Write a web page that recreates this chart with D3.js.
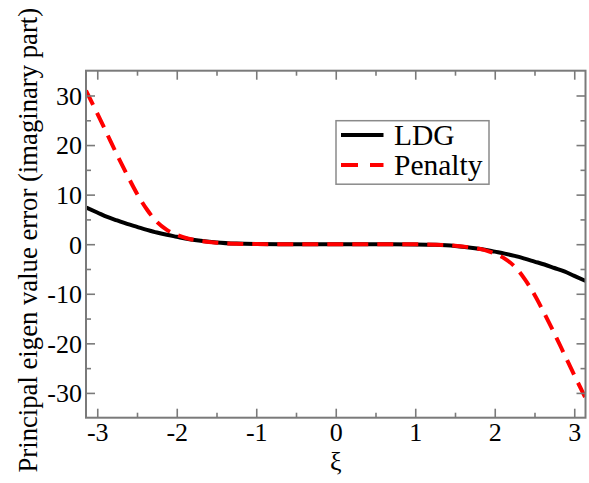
<!DOCTYPE html>
<html>
<head>
<meta charset="utf-8">
<script src="https://cdn.jsdelivr.net/npm/d3@7"></script>
<style>
  #chart, #chart text { font-family: Liberation Serif, Times New Roman !important; }
</style>
</head>
<body style="margin:0;padding:0;background:#fff">
<svg id="chart" width="589" height="483" style="display:block" font-family="Liberation Serif"></svg>
<script>
// ---- data ----
const xi = [-3.1416, -3.0, -2.875, -2.75, -2.625, -2.5, -2.375, -2.25, -2.125, -2.0, -1.875, -1.75, -1.5, -1.25, -1.0, -0.5, 0.0,
            0.5, 1.0, 1.25, 1.5, 1.75, 1.875, 2.0, 2.125, 2.25, 2.375, 2.5, 2.625, 2.75, 2.875, 3.0, 3.1416];
const ldg = [7.4, 6.4, 5.5, 4.8, 4.1, 3.5, 2.9, 2.35, 1.9, 1.5, 1.1, 0.8, 0.35, 0.12, 0.04, 0.0, 0.0,
             0.0, -0.04, -0.12, -0.35, -0.8, -1.1, -1.5, -1.9, -2.35, -2.9, -3.5, -4.1, -4.8, -5.5, -6.4, -7.4];
const penalty = [31.0, 26.4, 22.2, 18.0, 14.0, 10.2, 7.0, 4.5, 2.9, 1.9, 1.2, 0.8, 0.3, 0.1, 0.03, 0.0, 0.0,
                 0.0, -0.03, -0.1, -0.3, -0.8, -1.2, -1.9, -2.9, -4.5, -7.0, -10.2, -14.0, -18.0, -22.2, -26.4, -31.0];
const xTicks = [-3, -2, -1, 0, 1, 2, 3];
const xMinor = [-2.5, -1.5, -0.5, 0.5, 1.5, 2.5];
const yTicks = [-30, -20, -10, 0, 10, 20, 30];
const yMinor = [-25, -15, -5, 5, 15, 25];
const seriesNames = ["LDG", "Penalty"];
const xLabel = "ξ";
const yLabel = "Principal eigen value error (imaginary part)";

// ---- layout ----
const FONT = "Liberation Serif";
const svgNode = document.getElementById("chart");
const svg = d3.select(svgNode);
const L = 86, R = 585.5, T = 70.7, B = 417.7;
const x = d3.scaleLinear().domain([-Math.PI, Math.PI]).range([L, R]);
const y = d3.scaleLinear().domain([-35, 35]).range([B, T]);
const axisColor = "#7a7a7a";
const fmt = (d) => String(d); // plain hyphen-minus like the reference

// clip
svg.append("defs").append("clipPath").attr("id", "clip")
  .append("rect").attr("x", L).attr("y", T).attr("width", R - L).attr("height", B - T);

// curves
const line = (vals) => d3.line().x((d, i) => x(xi[i])).y((d) => y(d)).curve(d3.curveMonotoneX)(vals);
const g = svg.append("g").attr("clip-path", "url(#clip)");
g.append("path").attr("d", line(ldg)).attr("fill", "none")
  .attr("stroke", "#000").attr("stroke-width", 4);
g.append("path").attr("d", line(penalty)).attr("fill", "none")
  .attr("stroke", "#ff0000").attr("stroke-width", 4).attr("stroke-dasharray", "16,9");

// axes with inward ticks on all sides
const major = 9, minor = 5;
const add = (ax, tr) => svg.append("g").attr("transform", tr).call(ax);
const axes = [
  add(d3.axisBottom(x).tickValues(xTicks).tickSize(-major).tickFormat(fmt), `translate(0,${B})`),
  add(d3.axisTop(x).tickValues(xTicks).tickSize(-major).tickFormat(""), `translate(0,${T})`),
  add(d3.axisLeft(y).tickValues(yTicks).tickSize(-major).tickFormat(fmt), `translate(${L},0)`),
  add(d3.axisRight(y).tickValues(yTicks).tickSize(-major).tickFormat(""), `translate(${R},0)`),
  add(d3.axisBottom(x).tickValues(xMinor).tickSize(-minor).tickFormat(""), `translate(0,${B})`),
  add(d3.axisTop(x).tickValues(xMinor).tickSize(-minor).tickFormat(""), `translate(0,${T})`),
  add(d3.axisLeft(y).tickValues(yMinor).tickSize(-minor).tickFormat(""), `translate(${L},0)`),
  add(d3.axisRight(y).tickValues(yMinor).tickSize(-minor).tickFormat(""), `translate(${R},0)`)
];
axes.forEach(a => {
  a.node().removeAttribute("font-family");
  a.node().removeAttribute("font-size");
  a.select(".domain").remove();
  a.selectAll(".tick line").attr("stroke", axisColor).attr("stroke-width", 1.6);
  a.selectAll(".tick text").attr("font-size", 26);
});
axes[0].selectAll(".tick text").attr("y", 0).attr("dy", 0).attr("transform", "translate(0,23)");
axes[2].selectAll(".tick text").attr("x", -4).attr("dy", "0.34em");

// frame
svg.append("rect").attr("x", L).attr("y", T).attr("width", R - L).attr("height", B - T)
  .attr("fill", "none").attr("stroke", axisColor).attr("stroke-width", 2);

// axis labels
svg.append("text").attr("x", x(0)).attr("y", 470).attr("text-anchor", "middle")
  .attr("font-size", 26).text(xLabel);
svg.append("text").attr("transform", `translate(37,${(T + B) / 2 - 4}) rotate(-90)`)
  .attr("text-anchor", "middle").attr("font-size", 26.7).text(yLabel);

// legend
const lg = svg.append("g");
lg.append("rect").attr("x", 336).attr("y", 120.7).attr("width", 153).attr("height", 63.5)
  .attr("fill", "#fff").attr("stroke", "#8a8a8a").attr("stroke-width", 1.5);
const legendStyles = [{stroke: "#000", dash: null}, {stroke: "#ff0000", dash: "17,12"}];
seriesNames.forEach((name, i) => {
  const yy = 135 + i * 30;
  lg.append("line").attr("x1", 341).attr("x2", 383.5).attr("y1", yy).attr("y2", yy)
    .attr("stroke", legendStyles[i].stroke).attr("stroke-width", 4)
    .attr("stroke-dasharray", legendStyles[i].dash);
  lg.append("text").attr("x", 394).attr("y", yy + 9.5).attr("font-size", 29.5).text(name);
});

svgNode.querySelectorAll("text").forEach(t => {
  t.setAttribute("font-family", FONT);
  t.setAttribute("fill", "#000");
});
</script>
</body>
</html>
